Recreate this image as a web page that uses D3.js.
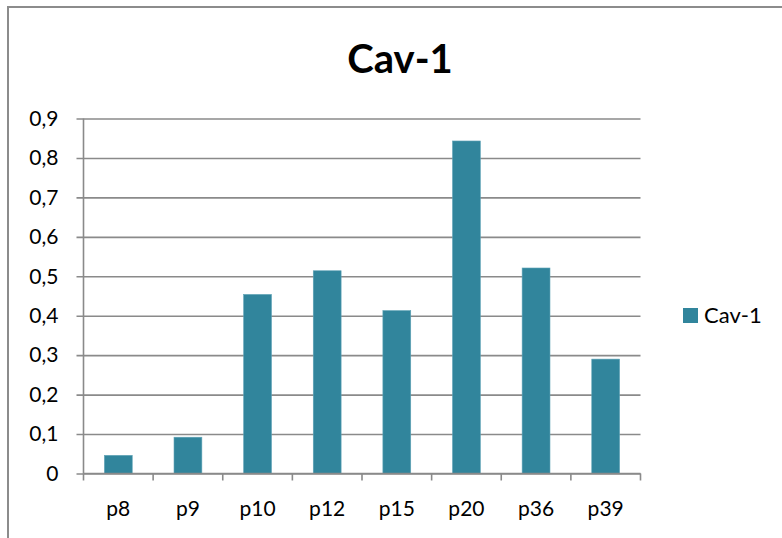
<!DOCTYPE html>
<html>
<head>
<meta charset="utf-8">
<script src="https://cdn.jsdelivr.net/npm/d3@7"></script>
<style>
  html, body { margin: 0; padding: 0; background: #fff; }
  svg { display: block; }
</style>
</head>
<body>
<svg id="chart" width="782" height="538"></svg>
<script>
// Cav-1 expression per sample
const categories = ["p8", "p9", "p10", "p12", "p15", "p20", "p36", "p39"];
const cav1Values = [0.046, 0.092, 0.454, 0.514, 0.413, 0.843, 0.521, 0.290];
const yTickValues = [0, 0.1, 0.2, 0.3, 0.4, 0.5, 0.6, 0.7, 0.8, 0.9];
const seriesName = "Cav-1";

const W = 782, H = 538;
const font = "Lato, 'Open Sans', 'DejaVu Sans', sans-serif";
const barColor = "#31859c";
const gridColor = "#8a8a8a";

const svg = d3.select("#chart");

// outer frame (top and left edges visible)
svg.append("path")
  .attr("d", `M8,${H} L8,7 L${W},7`)
  .attr("fill", "none")
  .attr("stroke", "#8c8c8c")
  .attr("stroke-width", 2);

const plot = { left: 83.5, right: 640.5, top: 118.5, bottom: 473.5 };

const x = d3.scaleBand()
  .domain(categories)
  .range([plot.left, plot.right])
  .paddingInner(0.6)
  .paddingOuter(0.3);

const y = d3.scaleLinear()
  .domain([0, 0.9])
  .range([plot.bottom, plot.top]);

// horizontal gridlines with short outside ticks
const yAxis = d3.axisLeft(y)
  .tickValues(yTickValues)
  .tickSize(-(plot.right - plot.left))
  .tickSizeOuter(0)
  .tickPadding(25)
  .tickFormat(d => d === 0 ? "0" : d3.format(".1f")(d).replace(".", ","));

const gy = svg.append("g")
  .attr("transform", `translate(${plot.left},0)`)
  .call(yAxis);
gy.select(".domain").remove();
gy.selectAll(".tick line")
  .attr("x1", -7)
  .attr("stroke", gridColor)
  .attr("stroke-width", 1.6);
gy.selectAll(".tick text")
  .attr("font-family", font)
  .attr("font-size", 21)
  .attr("fill", "#000");

// bars
svg.append("g")
  .selectAll("rect")
  .data(categories.map((c, i) => ({ c, v: cav1Values[i] })))
  .join("rect")
  .attr("x", d => x(d.c))
  .attr("width", x.bandwidth())
  .attr("y", d => y(d.v))
  .attr("height", d => y(0) - y(d.v))
  .attr("fill", barColor)
  .attr("stroke", "#5fa3b6")
  .attr("stroke-width", 0.6);

// vertical value axis line
svg.append("line")
  .attr("x1", plot.left).attr("x2", plot.left)
  .attr("y1", plot.top).attr("y2", plot.bottom)
  .attr("stroke", gridColor)
  .attr("stroke-width", 1.6);

// category axis with tick marks at category boundaries
const step = (plot.right - plot.left) / categories.length;
const gx = svg.append("g")
  .attr("transform", `translate(0,${plot.bottom})`);
gx.append("line")
  .attr("x1", plot.left).attr("x2", plot.right)
  .attr("stroke", gridColor).attr("stroke-width", 1.6);
gx.selectAll("line.tk")
  .data(d3.range(categories.length + 1))
  .join("line")
  .attr("class", "tk")
  .attr("x1", i => plot.left + i * step)
  .attr("x2", i => plot.left + i * step)
  .attr("y1", 0).attr("y2", 7)
  .attr("stroke", gridColor).attr("stroke-width", 1.6);
gx.selectAll("text")
  .data(categories)
  .join("text")
  .attr("x", d => x(d) + x.bandwidth() / 2)
  .attr("y", 42)
  .attr("text-anchor", "middle")
  .attr("font-family", font)
  .attr("font-size", 21)
  .attr("fill", "#000")
  .text(d => d);

// title
svg.append("text")
  .attr("x", 400)
  .attr("y", 73)
  .attr("text-anchor", "middle")
  .attr("font-family", font)
  .attr("font-weight", "bold")
  .attr("font-size", 40)
  .attr("fill", "#000")
  .text(seriesName);

// legend
const lg = svg.append("g").attr("transform", "translate(683,308)");
lg.append("rect")
  .attr("width", 15).attr("height", 15)
  .attr("fill", barColor);
lg.append("text")
  .attr("x", 21).attr("y", 15)
  .attr("font-family", font)
  .attr("font-size", 22)
  .attr("fill", "#000")
  .text(seriesName);
</script>
</body>
</html>
